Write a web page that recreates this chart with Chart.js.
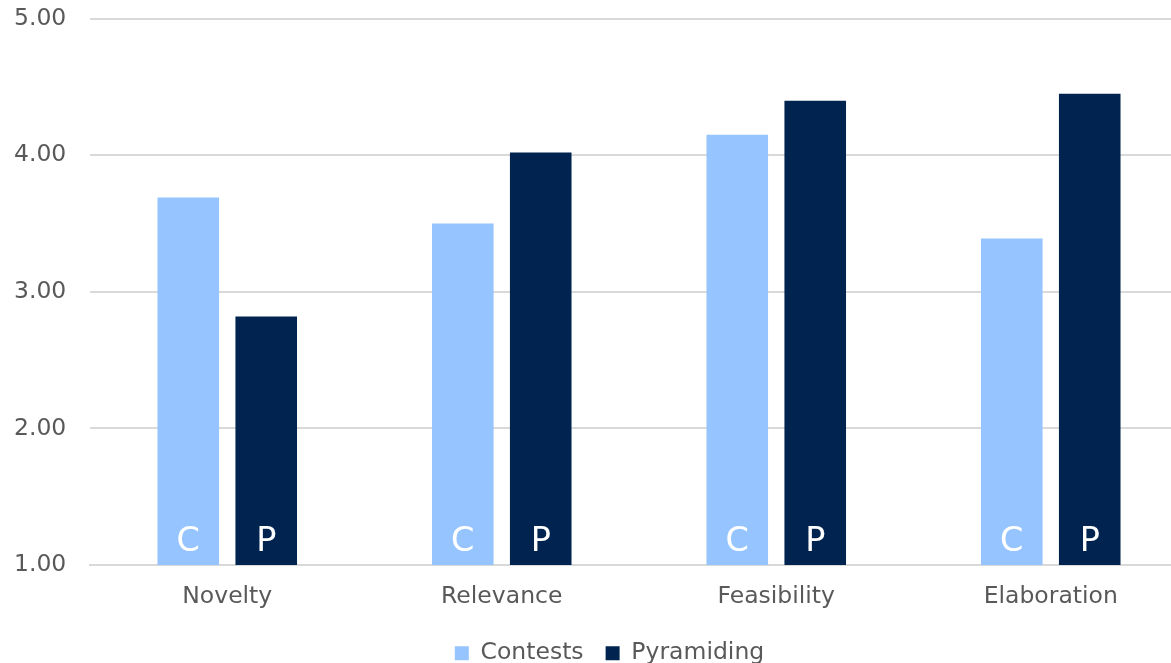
<!DOCTYPE html>
<html>
<head>
<meta charset="utf-8">
<script src="https://cdn.jsdelivr.net/npm/chart.js@4/dist/chart.umd.min.js"></script>
<style>
   html, body { margin: 0; padding: 0; background: #fff; overflow: hidden; }
   #wrap { width: 1188px; height: 663px; position: relative; }
</style>
</head>
<body>
<div id="wrap"><canvas id="chart"></canvas></div>
<script>
'use strict';

const categories = ['Novelty', 'Relevance', 'Feasibility', 'Elaboration'];
const contests = [3.69, 3.50, 4.15, 3.39];
const pyramiding = [2.82, 4.02, 4.40, 4.45];
const seriesNames = ['Contests', 'Pyramiding'];
const barLetters = ['C', 'P'];
const yTicks = [1, 2, 3, 4, 5];

const FONT = '"DejaVu Sans", Verdana, sans-serif';
const TEXT = '#595959';

// white letter at the foot of each bar
const barLetterPlugin = {
   id: 'barLetters',
   afterDatasetsDraw(chart) {
      const ctx = chart.ctx;
      const bottom = chart.scales.y.getPixelForValue(1);
      ctx.save();
      ctx.font = '33.5px ' + FONT;
      ctx.fillStyle = '#ffffff';
      ctx.textAlign = 'center';
      ctx.textBaseline = 'alphabetic';
      chart.data.datasets.forEach(function (ds, i) {
         chart.getDatasetMeta(i).data.forEach(function (bar) {
            ctx.fillText(barLetters[i], bar.x, bottom - 14);
         });
      });
      ctx.restore();
   }
};

new Chart(document.getElementById('chart'), {
   type: 'bar',
   data: {
      labels: categories,
      datasets: [{
         label: seriesNames[0],
         data: contests,
         backgroundColor: '#95c4fe',
         categoryPercentage: 0.568,
         barPercentage: 0.79
      }, {
         label: seriesNames[1],
         data: pyramiding,
         backgroundColor: '#00234f',
         categoryPercentage: 0.568,
         barPercentage: 0.79
      }]
   },
   options: {
      responsive: true,
      maintainAspectRatio: false,
      animation: false,
      layout: {
         // left padding also centres the legend row
         padding: { left: 31, top: 18.7, right: 0, bottom: -12 }
      },
      scales: {
         x: {
            grid: { display: false, drawTicks: false },
            border: { display: true, color: '#d9d9d9', width: 2 },
            ticks: {
               color: TEXT,
               font: { family: FONT, size: 23.5 },
               padding: 17.5
            },
            afterFit: function (axis) {
               axis.height = 54.5;
            }
         },
         y: {
            min: 1,
            max: 5,
            afterBuildTicks: function (axis) {
               axis.ticks = yTicks.map(function (v) { return { value: v }; });
            },
            grid: { color: '#d9d9d9', lineWidth: 2, drawTicks: false },
            border: { display: false },
            ticks: {
               color: TEXT,
               font: { family: FONT, size: 23.5 },
               mirror: true,
               padding: -76,
               callback: function (v) { return Number(v).toFixed(2); }
            },
            afterFit: function (axis) {
               axis.width = 59;
            }
         }
      },
      plugins: {
         legend: {
            position: 'bottom',
            labels: {
               color: TEXT,
               font: { family: FONT, size: 23.5 },
               boxWidth: 14,
               boxHeight: 14,
               padding: 22
            }
         },
         tooltip: { enabled: false }
      }
   },
   plugins: [barLetterPlugin]
});
</script>
</body>
</html>
